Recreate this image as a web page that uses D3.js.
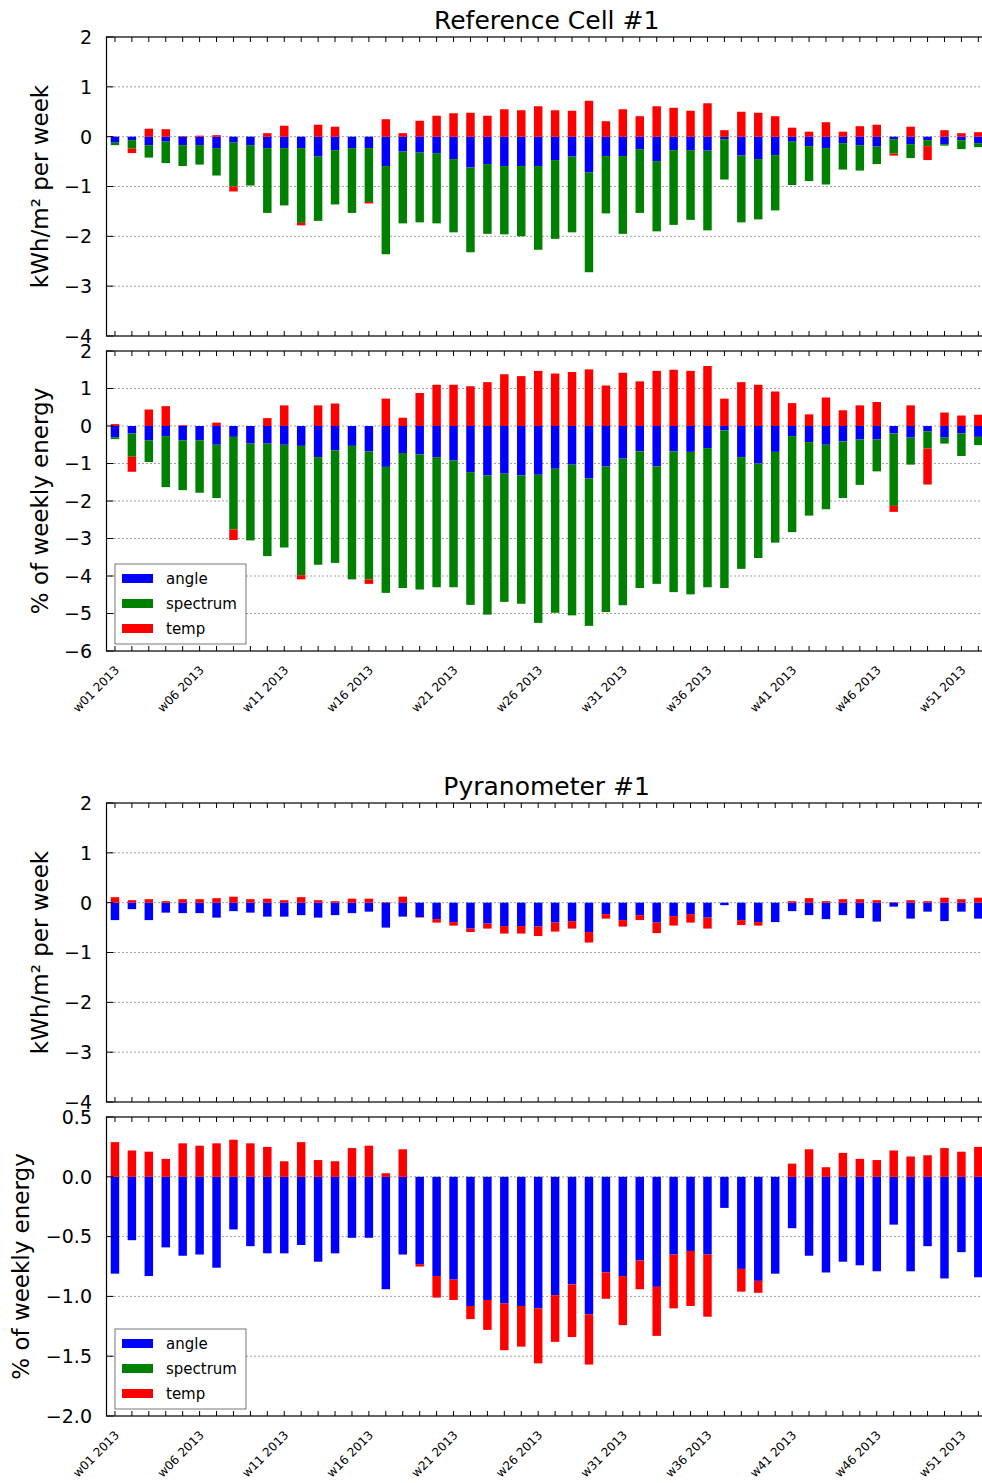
<!DOCTYPE html>
<meta charset="utf-8">
<style>
body { margin: 0; background: #fff; }
svg { display: block; font-family: "DejaVu Sans", sans-serif; }
.grid line { stroke: #000; stroke-width: 1; stroke-dasharray: 1,3; stroke-opacity: 0.75; }
.frame { fill: none; stroke: #000; stroke-width: 1.2; }
.tick { stroke: #000; stroke-width: 1; }
</style>
<body>
<script src="https://d3js.org/d3.v7.min.js"></script>
<script>
var width = 982, height = 1483;

var weeks = d3.range(1, 53).map(function(w) { return "w" + (w < 10 ? "0" : "") + w + " 2013"; });
var keys = ["angle", "spectrum", "temp"];
var colors = { angle: "#0000ff", spectrum: "#008000", temp: "#ff0000" };

// Reference cell, kWh/m2 per week
var refAngleKwh = [-0.12,-0.07,-0.17,-0.10,-0.17,-0.17,-0.23,-0.12,-0.17,-0.23,-0.23,-0.23,-0.40,-0.27,-0.23,-0.23,-0.59,-0.30,-0.32,-0.33,-0.45,-0.62,-0.55,-0.59,-0.59,-0.59,-0.47,-0.40,-0.72,-0.39,-0.39,-0.25,-0.49,-0.27,-0.27,-0.28,-0.05,-0.38,-0.45,-0.37,-0.10,-0.19,-0.23,-0.13,-0.17,-0.20,-0.05,-0.15,-0.07,-0.15,-0.07,-0.13];
var refSpectrumKwh = [-0.05,-0.17,-0.25,-0.43,-0.42,-0.39,-0.55,-0.88,-0.81,-1.30,-1.15,-1.50,-1.29,-1.09,-1.30,-1.08,-1.77,-1.44,-1.40,-1.41,-1.47,-1.70,-1.40,-1.37,-1.41,-1.68,-1.58,-1.52,-2.00,-1.15,-1.56,-1.28,-1.41,-1.50,-1.40,-1.60,-0.81,-1.34,-1.21,-1.11,-0.87,-0.70,-0.73,-0.53,-0.51,-0.35,-0.29,-0.28,-0.12,-0.03,-0.18,-0.08];
var refTempKwh = [0.00,-0.09,0.16,0.15,0.01,0.02,0.03,-0.10,0.00,0.07,0.22,-0.05,0.24,0.20,0.00,-0.03,0.35,0.07,0.32,0.42,0.47,0.48,0.42,0.55,0.53,0.61,0.53,0.52,0.72,0.31,0.55,0.41,0.61,0.58,0.52,0.67,0.13,0.50,0.48,0.41,0.18,0.10,0.29,0.10,0.21,0.24,-0.04,0.20,-0.28,0.13,0.07,0.09];

// Reference cell, % of weekly energy
var refAnglePct = [-0.30,-0.20,-0.38,-0.27,-0.38,-0.38,-0.50,-0.29,-0.47,-0.47,-0.50,-0.53,-0.83,-0.65,-0.53,-0.68,-1.09,-0.72,-0.76,-0.83,-0.92,-1.23,-1.32,-1.27,-1.32,-1.30,-1.14,-1.03,-1.40,-1.08,-0.87,-0.68,-1.08,-0.68,-0.69,-0.59,-0.12,-0.83,-1.00,-0.69,-0.27,-0.43,-0.50,-0.41,-0.36,-0.36,-0.20,-0.31,-0.14,-0.31,-0.20,-0.29];
var refSpectrumPct = [-0.05,-0.62,-0.58,-1.36,-1.33,-1.40,-1.42,-2.47,-2.58,-3.00,-2.74,-3.45,-2.87,-3.00,-3.56,-3.41,-3.36,-3.60,-3.60,-3.47,-3.38,-3.54,-3.71,-3.42,-3.42,-3.95,-3.84,-4.02,-3.93,-3.88,-3.91,-3.64,-3.13,-3.75,-3.80,-3.71,-4.20,-2.98,-2.52,-2.42,-2.56,-1.96,-1.72,-1.51,-1.21,-0.85,-1.93,-0.72,-0.46,-0.16,-0.60,-0.22];
var refTempPct = [0.05,-0.40,0.44,0.53,0.02,0.00,0.09,-0.28,0.00,0.21,0.55,-0.11,0.55,0.60,0.00,-0.12,0.73,0.22,0.88,1.10,1.10,1.06,1.17,1.38,1.33,1.47,1.40,1.44,1.51,1.08,1.42,1.19,1.47,1.50,1.47,1.60,0.73,1.17,1.10,0.92,0.61,0.31,0.76,0.42,0.55,0.64,-0.16,0.55,-0.96,0.36,0.28,0.30];

// Pyranometer, kWh/m2 per week
var pyrAngleKwh = [-0.35,-0.13,-0.35,-0.20,-0.21,-0.21,-0.30,-0.17,-0.20,-0.28,-0.28,-0.25,-0.30,-0.25,-0.21,-0.18,-0.50,-0.28,-0.29,-0.33,-0.39,-0.52,-0.42,-0.47,-0.47,-0.48,-0.40,-0.37,-0.59,-0.23,-0.35,-0.25,-0.40,-0.27,-0.23,-0.30,-0.05,-0.35,-0.39,-0.39,-0.17,-0.25,-0.33,-0.25,-0.31,-0.38,-0.08,-0.32,-0.18,-0.37,-0.18,-0.32];
var pyrSpectrumKwh = [0,0,0,0,0,0,0,0,0,0,0,0,0,0,0,0,0,0,0,0,0,0,0,0,0,0,0,0,0,0,0,0,0,0,0,0,0,0,0,0,0,0,0,0,0,0,0,0,0,0,0,0];
var pyrTempKwh = [0.11,0.05,0.07,0.03,0.07,0.07,0.09,0.12,0.07,0.08,0.05,0.11,0.05,0.03,0.08,0.08,0.01,0.12,-0.01,-0.07,-0.07,-0.07,-0.10,-0.15,-0.15,-0.19,-0.18,-0.15,-0.21,-0.09,-0.13,-0.10,-0.21,-0.19,-0.17,-0.22,0.00,-0.10,-0.07,0.00,0.03,0.09,0.03,0.07,0.07,0.05,0.01,0.05,0.03,0.10,0.07,0.10];

// Pyranometer, % of weekly energy
var pyrAnglePct = [-0.81,-0.53,-0.83,-0.59,-0.66,-0.65,-0.76,-0.44,-0.58,-0.64,-0.64,-0.57,-0.71,-0.64,-0.51,-0.51,-0.94,-0.65,-0.73,-0.83,-0.86,-1.08,-1.03,-1.06,-1.08,-1.10,-0.99,-0.90,-1.15,-0.80,-0.83,-0.70,-0.92,-0.65,-0.62,-0.65,-0.26,-0.77,-0.87,-0.81,-0.43,-0.66,-0.80,-0.71,-0.74,-0.79,-0.40,-0.79,-0.58,-0.85,-0.63,-0.84];
var pyrSpectrumPct = [0,0,0,0,0,0,0,0,0,0,0,0,0,0,0,0,0,0,0,0,0,0,0,0,0,0,0,0,0,0,0,0,0,0,0,0,0,0,0,0,0,0,0,0,0,0,0,0,0,0,0,0];
var pyrTempPct = [0.29,0.22,0.21,0.15,0.28,0.26,0.28,0.31,0.28,0.25,0.13,0.29,0.14,0.13,0.24,0.26,0.03,0.23,-0.02,-0.18,-0.17,-0.11,-0.25,-0.39,-0.34,-0.46,-0.39,-0.44,-0.42,-0.22,-0.41,-0.24,-0.41,-0.45,-0.46,-0.52,0.00,-0.19,-0.10,0.00,0.11,0.23,0.08,0.20,0.15,0.14,0.22,0.17,0.18,0.24,0.21,0.25];

var kwhTicks = [-4, -3, -2, -1, 0, 1, 2];
var refPctTicks = [-6, -5, -4, -3, -2, -1, 0, 1, 2];
var pyrPctTicks = [-2.0, -1.5, -1.0, -0.5, 0.0, 0.5];

var panels = [
  { title: "Reference Cell #1", ylabel: "kWh/m\u00b2 per week", top: 37, bottom: 336, domain: [-4, 2],
    ticks: kwhTicks, fmt: d3.format("d"), labelX: 40, series: [refAngleKwh, refSpectrumKwh, refTempKwh] },
  { ylabel: "% of weekly energy", top: 351, bottom: 651, domain: [-6, 2], legend: true, xlabels: true,
    ticks: refPctTicks, fmt: d3.format("d"), labelX: 40, series: [refAnglePct, refSpectrumPct, refTempPct] },
  { title: "Pyranometer #1", ylabel: "kWh/m\u00b2 per week", top: 803, bottom: 1102, domain: [-4, 2],
    ticks: kwhTicks, fmt: d3.format("d"), labelX: 40, series: [pyrAngleKwh, pyrSpectrumKwh, pyrTempKwh] },
  { ylabel: "% of weekly energy", top: 1117, bottom: 1416, domain: [-2, 0.5], legend: true, xlabels: true,
    ticks: pyrPctTicks, fmt: d3.format(".1f"), labelX: 21, series: [pyrAnglePct, pyrSpectrumPct, pyrTempPct] }
];

var svg = d3.select("body").append("svg")
    .attr("width", width)
    .attr("height", height);

var x = d3.scaleLinear().domain([-0.5, 51.5]).range([106.5, 986.8]);
var barW = x(0.5) - x(0);

var stack = d3.stack().keys(keys).offset(d3.stackOffsetDiverging);

panels.forEach(function(p) {
  var y = d3.scaleLinear().domain(p.domain).range([p.bottom, p.top]);
  var g = svg.append("g");

  var rows = weeks.map(function(w, i) {
    return { week: w, i: i, angle: p.series[0][i], spectrum: p.series[1][i], temp: p.series[2][i] };
  });

  // dotted grid
  g.append("g").attr("class", "grid")
    .selectAll("line")
    .data(p.ticks.filter(function(t) { return t !== p.domain[0] && t !== p.domain[1]; }))
    .enter().append("line")
    .attr("x1", x.range()[0]).attr("x2", x.range()[1])
    .attr("y1", function(d) { return y(d); }).attr("y2", function(d) { return y(d); });

  // bars
  g.selectAll("g.layer")
    .data(stack(rows))
    .enter().append("g")
    .attr("class", "layer")
    .attr("fill", function(d) { return colors[d.key]; })
    .selectAll("rect")
    .data(function(d) { return d; })
    .enter().append("rect")
    .attr("x", function(d) { return x(d.data.i) - barW / 2; })
    .attr("width", barW)
    .attr("y", function(d) { return y(Math.max(d[0], d[1])); })
    .attr("height", function(d) { return Math.abs(y(d[0]) - y(d[1])); });

  // frame
  g.append("rect").attr("class", "frame")
    .attr("x", x.range()[0]).attr("y", p.top)
    .attr("width", x.range()[1] - x.range()[0]).attr("height", p.bottom - p.top);

  // x ticks, inward top and bottom
  weeks.forEach(function(w, i) {
    g.append("line").attr("class", "tick")
      .attr("x1", x(i)).attr("x2", x(i)).attr("y1", p.top).attr("y2", p.top + 5);
    g.append("line").attr("class", "tick")
      .attr("x1", x(i)).attr("x2", x(i)).attr("y1", p.bottom).attr("y2", p.bottom - 5);
  });

  // y ticks and labels
  p.ticks.forEach(function(t) {
    g.append("line").attr("class", "tick")
      .attr("x1", x.range()[0]).attr("x2", x.range()[0] + 7)
      .attr("y1", y(t)).attr("y2", y(t));
    g.append("text")
      .attr("x", 92).attr("y", y(t))
      .attr("dy", "0.36em")
      .attr("text-anchor", "end")
      .attr("font-size", 19)
      .text(p.fmt(t));
  });

  // y label
  g.append("text")
    .attr("transform", "translate(" + p.labelX + "," + ((p.top + p.bottom) / 2) + ") rotate(-90)")
    .attr("text-anchor", "middle")
    .attr("dy", "0.35em")
    .attr("font-size", 23)
    .text(p.ylabel);

  if (p.title) {
    g.append("text")
      .attr("x", (x.range()[0] + x.range()[1]) / 2)
      .attr("y", p.top - 8)
      .attr("text-anchor", "middle")
      .attr("font-size", 25)
      .text(p.title);
  }

  if (p.xlabels) {
    g.selectAll("text.xl")
      .data(weeks.filter(function(w, i) { return i % 5 === 0; }))
      .enter().append("text")
      .attr("class", "xl")
      .attr("transform", function(d) {
        return "translate(" + (x(weeks.indexOf(d)) - 1) + "," + (p.bottom + 14) + ") rotate(-45)";
      })
      .attr("text-anchor", "end")
      .attr("dy", "0.7em")
      .attr("font-size", 12)
      .text(function(d) { return d; });
  }

  if (p.legend) {
    var lg = g.append("g").attr("transform", "translate(115," + (p.bottom - 87) + ")");
    lg.append("rect")
      .attr("width", 131).attr("height", 80)
      .attr("fill", "#fff").attr("stroke", "#555").attr("stroke-width", 0.8);
    keys.forEach(function(k, j) {
      lg.append("rect")
        .attr("x", 7).attr("y", 10 + j * 25)
        .attr("width", 31).attr("height", 9)
        .attr("fill", colors[k]);
      lg.append("text")
        .attr("x", 51).attr("y", 15 + j * 25)
        .attr("dy", "0.35em")
        .attr("font-size", 15)
        .text(k);
    });
  }
});
</script>
</body>
</html>
